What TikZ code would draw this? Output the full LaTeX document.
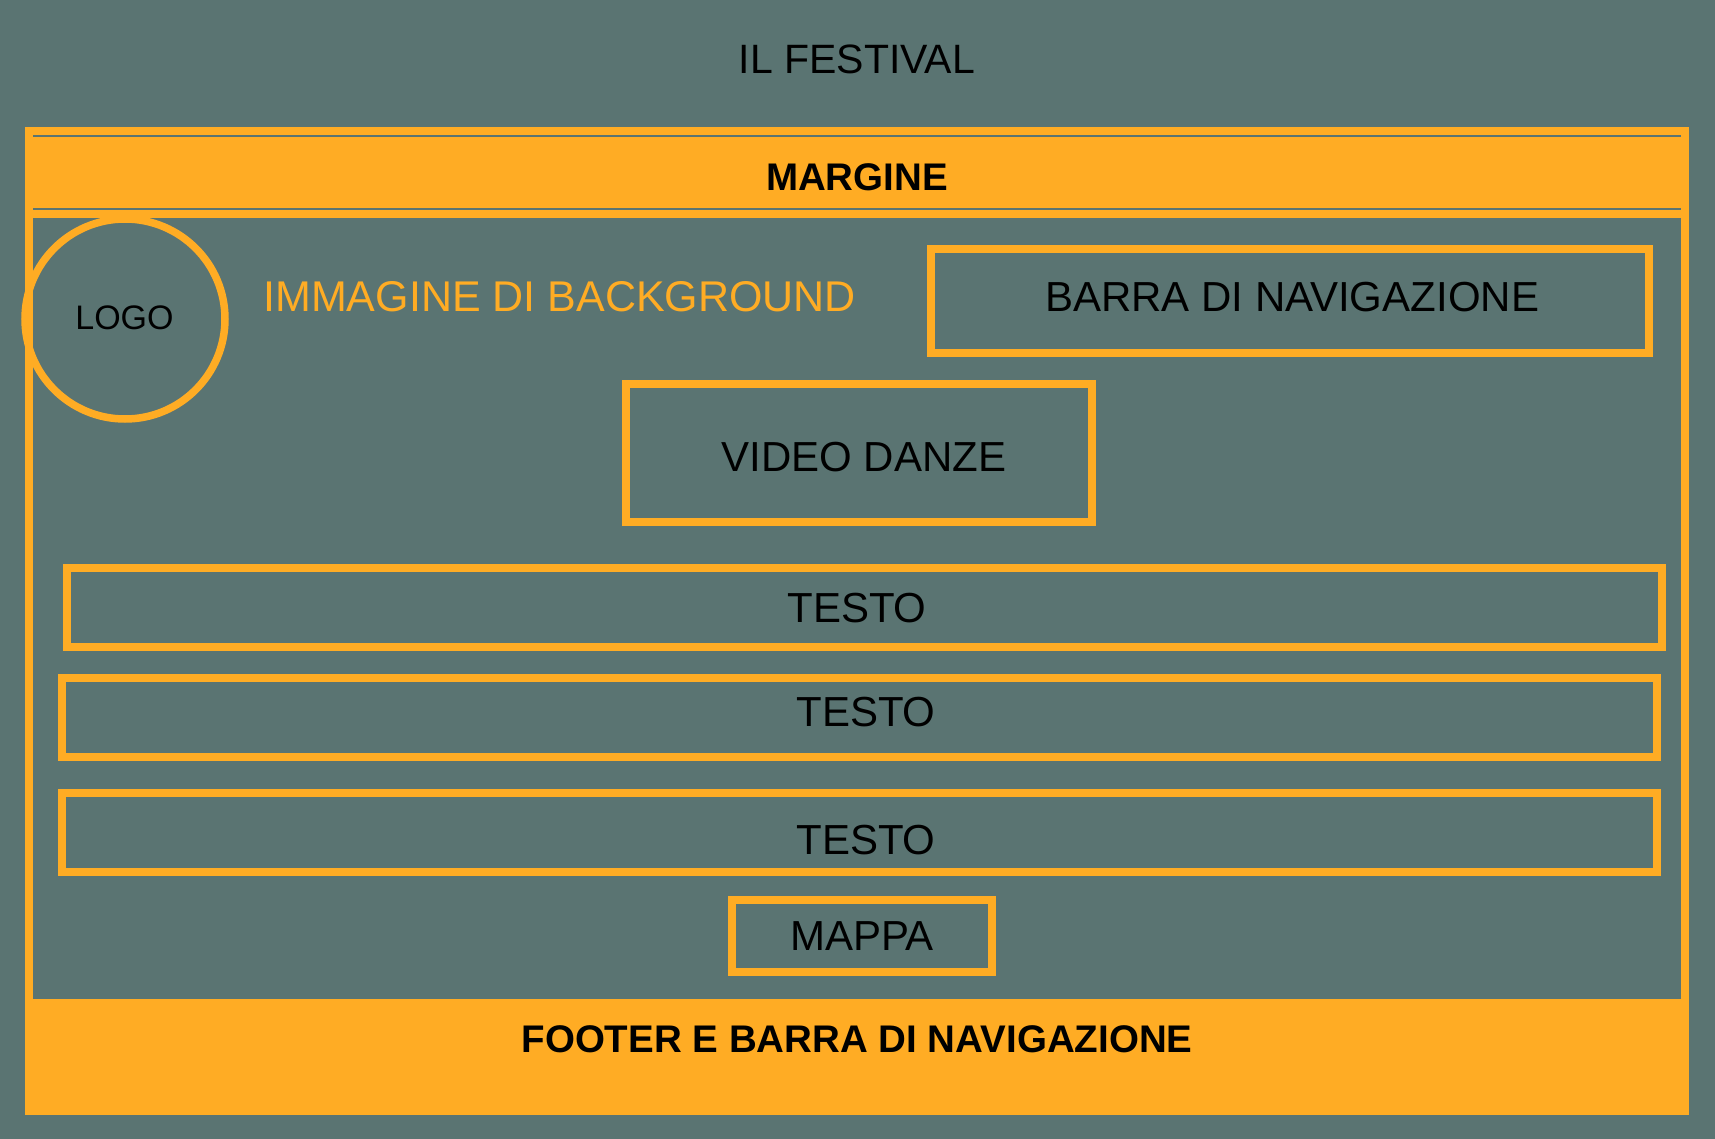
\documentclass[tikz,border=0pt]{standalone}
\usepackage{fontspec}
\setmainfont{Liberation Sans}
\definecolor{bg}{RGB}{90,116,114}
\definecolor{org}{RGB}{255,172,36}
\tikzset{
  box/.style={draw=org, line width=4pt, rectangle, inner sep=0pt},
  lbl/.style={inner sep=0pt, anchor=base, text=black, font=\fontsize{21pt}{25pt}\selectfont},
  blbl/.style={inner sep=0pt, anchor=base, text=black, font=\fontsize{19.25pt}{23pt}\selectfont\bfseries},
}
\begin{document}
\begin{tikzpicture}[x=0.5pt, y=-0.5pt]
\useasboundingbox (0,0) rectangle (1715,1139);
\fill[bg] (0,0) rectangle (1715,1139);
% frame
\fill[org] (25,127) rectangle (1689,1115);
\fill[bg] (33,218) rectangle (1681,999);
\fill[bg] (33,135) rectangle (1681,137);
\fill[bg] (33,208) rectangle (1681,210);
% boxes
\node[box, minimum width=359pt, minimum height=52pt] (barra) at (1290,301) {};
\node[box, minimum width=233pt, minimum height=69pt] (video) at (859,453) {};
\node[box, minimum width=797.5pt, minimum height=39.5pt] (testoA) at (864.5,607.5) {};
\node[box, minimum width=797.5pt, minimum height=39.5pt] (testoB) at (859.5,717.5) {};
\node[box, minimum width=797.5pt, minimum height=39.5pt] (testoC) at (859.5,832.5) {};
\node[box, minimum width=130pt, minimum height=36pt] (mappa) at (862,936) {};
\node[draw=org, line width=3.75pt, circle, minimum size=100pt, inner sep=0pt] (logo) at (125,319) {};
% texts
\node[lbl, font=\fontsize{20.5pt}{25pt}\selectfont] (title) at (857,74) {IL FESTIVAL};
\node[blbl] (margine) at (857,191) {MARGINE};
\node[lbl, font=\fontsize{17pt}{20pt}\selectfont] (logotxt) at (124.5,330) {LOGO};
\node[lbl, anchor=base west, text=org, font=\fontsize{21.5pt}{25pt}\selectfont] (immagine) at (263,311.7) {IMMAGINE DI BACKGROUND};
\node[lbl] (barratxt) at (1292,311.7) {BARRA DI NAVIGAZIONE};
\node[lbl] (videotxt) at (864,471.7) {VIDEO DANZE};
\node[lbl] (testoAtxt) at (857,622.7) {TESTO};
\node[lbl] (testoBtxt) at (866,726.7) {TESTO};
\node[lbl] (testoCtxt) at (866,854) {TESTO};
\node[lbl] (mappatxt) at (862,950) {MAPPA};
\node[blbl] (footer) at (857,1052.7) {FOOTER E BARRA DI NAVIGAZIONE};
\end{tikzpicture}
\end{document}
